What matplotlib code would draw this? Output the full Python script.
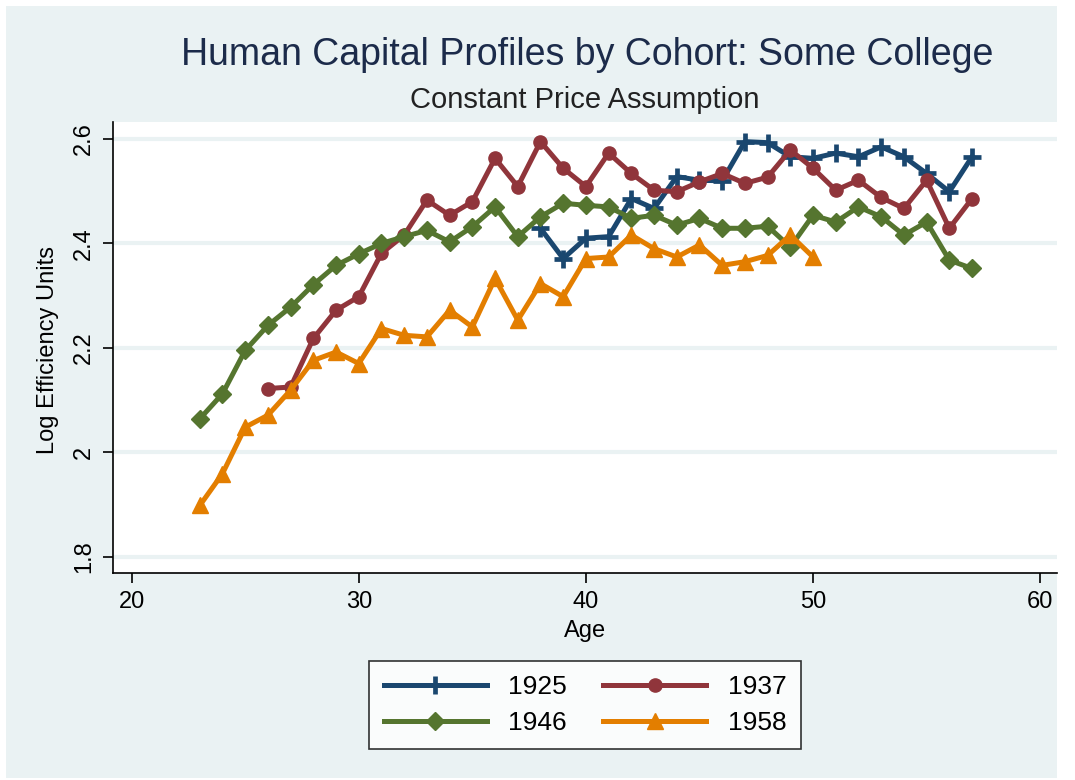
import matplotlib.pyplot as plt
from matplotlib.patches import Rectangle

plt.rcParams['font.family'] = ['Liberation Sans', 'DejaVu Sans']

# cohort profiles
age_1925 = list(range(38, 58))
eff_1925 = [2.429, 2.371, 2.410, 2.413, 2.486, 2.467, 2.528, 2.521, 2.520, 2.595,
            2.593, 2.566, 2.563, 2.573, 2.566, 2.585, 2.566, 2.534, 2.499, 2.566]

age_1937 = list(range(26, 58))
eff_1937 = [2.122, 2.125, 2.218, 2.272, 2.298, 2.381, 2.416, 2.483, 2.454, 2.480,
            2.563, 2.509, 2.595, 2.544, 2.509, 2.573, 2.534, 2.502, 2.499, 2.518,
            2.534, 2.515, 2.527, 2.579, 2.544, 2.502, 2.521, 2.488, 2.467, 2.521,
            2.429, 2.486]

age_1946 = list(range(23, 58))
eff_1946 = [2.064, 2.112, 2.195, 2.243, 2.278, 2.321, 2.358, 2.380, 2.400, 2.413,
            2.425, 2.403, 2.432, 2.470, 2.413, 2.451, 2.477, 2.473, 2.470, 2.448,
            2.454, 2.435, 2.448, 2.429, 2.429, 2.433, 2.393, 2.454, 2.441, 2.470,
            2.451, 2.416, 2.441, 2.368, 2.352]

age_1958 = list(range(23, 51))
eff_1958 = [1.898, 1.959, 2.048, 2.071, 2.119, 2.176, 2.192, 2.170, 2.237, 2.224,
            2.221, 2.272, 2.240, 2.333, 2.253, 2.323, 2.298, 2.371, 2.374, 2.416,
            2.390, 2.374, 2.397, 2.358, 2.365, 2.377, 2.416, 2.374]

x_ticks = [20, 30, 40, 50, 60]
y_ticks = [1.8, 2.0, 2.2, 2.4, 2.6]
y_tick_labels = ['1.8', '2', '2.2', '2.4', '2.6']

W, H = 1075, 780
bg = '#eaf2f3'

fig = plt.figure(figsize=(W / 100, H / 100), dpi=100, facecolor='white')
# stata-like light background panel, kept behind the axes
fig.patches.append(Rectangle((6 / W, 2 / H), (1057 - 6) / W, (774 - 2) / H,
                             transform=fig.transFigure, facecolor=bg,
                             edgecolor='none', zorder=-10))

ax = fig.add_axes([113 / W, 1 - 573 / H, (1057 - 113) / W, (573 - 122) / H])
ax.set_zorder(1)
ax.set_facecolor('white')

lw = 3.6
l25, = ax.plot(age_1925, eff_1925, color='#1a476f', lw=lw, marker='+', ms=13, mew=3.4, label='1925')
l37, = ax.plot(age_1937, eff_1937, color='#90353b', lw=lw, marker='o', ms=9.5, label='1937')
l46, = ax.plot(age_1946, eff_1946, color='#55752f', lw=lw, marker='D', ms=9, label='1946')
l58, = ax.plot(age_1958, eff_1958, color='#e37e00', lw=lw, marker='^', ms=11, label='1958')

ax.set_xlim(19.18, 60.74)
ax.set_ylim(1.7687, 2.6326)
ax.set_xticks(x_ticks)
ax.set_yticks(y_ticks)
ax.set_yticklabels(y_tick_labels, rotation=90, va='center')
ax.tick_params(labelsize=17, length=7, width=1.2, colors='black', pad=6)
ax.grid(axis='y', color=bg, lw=3, zorder=0)
ax.set_axisbelow(True)
for side in ['top', 'right']:
    ax.spines[side].set_visible(False)
for side in ['left', 'bottom']:
    ax.spines[side].set_linewidth(1.2)

fig.text(587 / W, 1 - 55 / H, 'Human Capital Profiles by Cohort: Some College',
         ha='center', va='center', fontsize=27, color='#1c2b4a')
fig.text(585 / W, 1 - 100 / H, 'Constant Price Assumption',
         ha='center', va='center', fontsize=21, color='#222222')
fig.text(585 / W, 1 - 631 / H, 'Age', ha='center', va='center', fontsize=17)
fig.text(48 / W, 1 - 350 / H, 'Log Efficiency Units', ha='center', va='center',
         rotation=90, fontsize=17)

# column-major fill, so order gives rows 1925/1937 and 1946/1958
leg = fig.legend([l25, l46, l37, l58], ['1925', '1946', '1937', '1958'],
                 loc='center', bbox_to_anchor=(585 / W, 1 - 705 / H), ncol=2,
                 fontsize=19, frameon=True, fancybox=False, handlelength=3.9,
                 columnspacing=1.4, handletextpad=0.8, borderpad=0.55,
                 labelspacing=0.45)
leg.get_frame().set_edgecolor('black')
leg.get_frame().set_linewidth(1.2)

fig.savefig('out.png', dpi=100, facecolor='white')
